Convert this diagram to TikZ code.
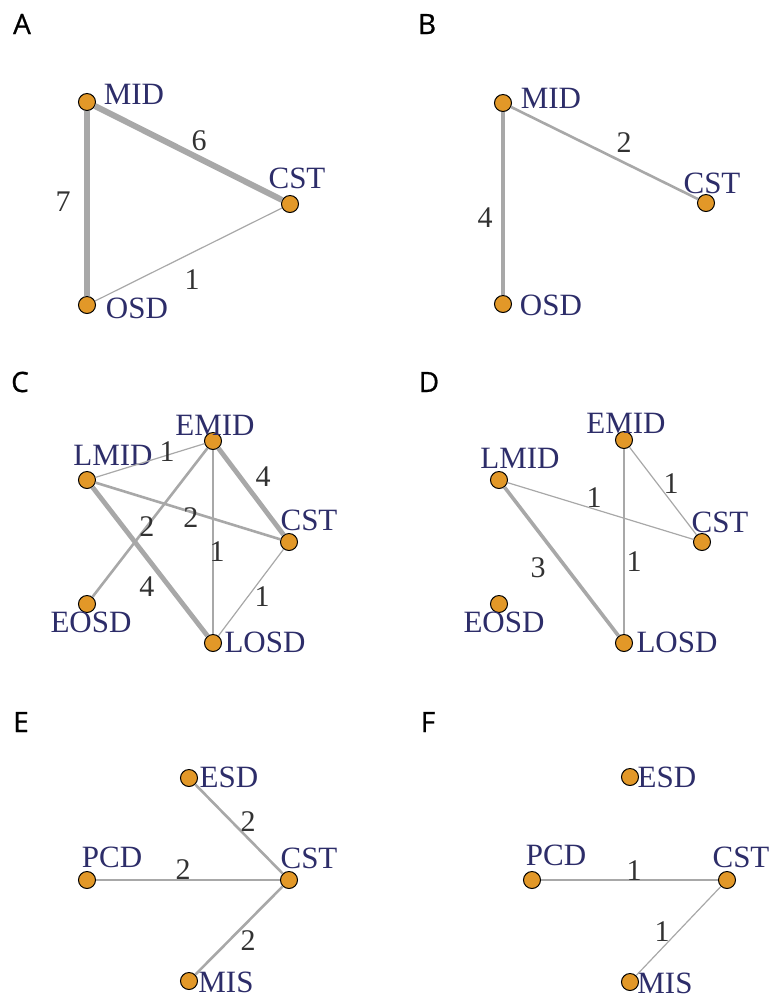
\documentclass[tikz,border=0pt]{standalone}
\usepackage{fontspec}
\setmainfont{Liberation Serif}
\newfontfamily\tagfont[FakeBold=0.8]{Open Sans}
\usepackage{tikz}
\definecolor{nodeorange}{RGB}{226,152,40}
\definecolor{labnavy}{RGB}{45,45,105}
\definecolor{numgray}{RGB}{50,50,50}
\definecolor{edgegray}{RGB}{168,168,168}
\tikzset{
  vert/.style={circle,draw=black,fill=nodeorange,line width=0.5pt,minimum size=8.5pt,inner sep=0pt},
  vlabel/.style={text=labnavy,font=\fontsize{15.5}{17}\selectfont,inner sep=0pt},
  wlabel/.style={text=numgray,font=\fontsize{15}{17}\selectfont,inner sep=0pt},
  tag/.style={font=\tagfont\fontsize{14}{16}\selectfont,inner sep=0pt},
  e1/.style={draw=edgegray,line width=0.6pt},
  e2/.style={draw=edgegray,line width=1.3pt},
  e3/.style={draw=edgegray,line width=1.8pt},
  e4/.style={draw=edgegray,line width=2.4pt},
  e6/.style={draw=edgegray,line width=3pt},
  e7/.style={draw=edgegray,line width=3.4pt}
}
\begin{document}
\begin{tikzpicture}[x=0.5pt,y=-0.5pt]
		\useasboundingbox (0,0) rectangle (773,998);
		% A: three nodes
		\begin{scope}
			\node[tag] (tA) at (22,24) {A};
			\node[vert] (aMID) at (87,102) {};
			\node[vert] (aCST) at (290,204) {};
			\node[vert] (aOSD) at (87,305) {};
			\node[vlabel] (laMID) at (134,94) {MID};
			\node[vlabel] (laCST) at (297,178) {CST};
			\node[vlabel] (laOSD) at (137,308) {OSD};
			\draw[e6] (aMID) -- (aCST);
			\draw[e7] (aMID) -- (aOSD);
			\draw[e1] (aOSD) -- (aCST);
			\node[wlabel] (naMC) at (199,141) {6};
			\node[wlabel] (naMO) at (63,202) {7};
			\node[wlabel] (naOC) at (192,280) {1};
		\end{scope}
		
		% B: same nodes, no OSD--CST edge
		\begin{scope}
			\node[tag] (tB) at (427,24) {B};
			\node[vert] (bMID) at (503,103) {};
			\node[vert] (bCST) at (706,203) {};
			\node[vert] (bOSD) at (503,304) {};
			\node[vlabel] (lbMID) at (551,98) {MID};
			\node[vlabel] (lbCST) at (712,183) {CST};
			\node[vlabel] (lbOSD) at (551,305) {OSD};
			\draw[e2] (bMID) -- (bCST);
			\draw[e4] (bMID) -- (bOSD);
			\node[wlabel] (nbMC) at (624,143) {2};
			\node[wlabel] (nbMO) at (485,218) {4};
		\end{scope}
		
		% C: five nodes
		\begin{scope}
			\node[tag] (tC) at (20,382) {C};
			\node[vert] (cEMID) at (213,441) {};
			\node[vert] (cLMID) at (87,480) {};
			\node[vert] (cCST) at (289,542) {};
			\node[vert] (cEOSD) at (87,604) {};
			\node[vert] (cLOSD) at (213,643) {};
			\node[vlabel] (lcEMID) at (215,425) {EMID};
			\node[vlabel] (lcLMID) at (113,455) {LMID};
			\node[vlabel] (lcCST) at (309,520) {CST};
			\node[vlabel] (lcEOSD) at (91,622) {EOSD};
			\node[vlabel] (lcLOSD) at (265,642) {LOSD};
			\draw[e1] (cLMID) -- (cEMID);
			\draw[e4] (cEMID) -- (cCST);
			\draw[e2] (cLMID) -- (cCST);
			\draw[e2] (cEOSD) -- (cEMID);
			\draw[e1] (cEMID) -- (cLOSD);
			\draw[e4] (cLMID) -- (cLOSD);
			\draw[e1] (cCST) -- (cLOSD);
			\node[wlabel] (ncLE) at (167,452) {1};
			\node[wlabel] (ncEC) at (263,477) {4};
			\node[wlabel] (ncLC) at (191,518) {2};
			\node[wlabel] (ncOE) at (147,527) {2};
			\node[wlabel] (ncEL) at (217,552) {1};
			\node[wlabel] (ncLL) at (147,587) {4};
			\node[wlabel] (ncCL) at (262,597) {1};
		\end{scope}
		
		% D: five nodes, EOSD alone
		\begin{scope}
			\node[tag] (tD) at (429,382) {D};
			\node[vert] (dEMID) at (624,440) {};
			\node[vert] (dLMID) at (499,480) {};
			\node[vert] (dCST) at (702,542) {};
			\node[vert] (dEOSD) at (499,604) {};
			\node[vert] (dLOSD) at (624,643) {};
			\node[vlabel] (ldEMID) at (626,423) {EMID};
			\node[vlabel] (ldLMID) at (520,458) {LMID};
			\node[vlabel] (ldCST) at (720,522) {CST};
			\node[vlabel] (ldEOSD) at (504,622) {EOSD};
			\node[vlabel] (ldLOSD) at (677,642) {LOSD};
			\draw[e1] (dLMID) -- (dCST);
			\draw[e1] (dEMID) -- (dCST);
			\draw[e1] (dEMID) -- (dLOSD);
			\draw[e3] (dLMID) -- (dLOSD);
			\node[wlabel] (ndLC) at (594,498) {1};
			\node[wlabel] (ndEC) at (671,484) {1};
			\node[wlabel] (ndEL) at (634,562) {1};
			\node[wlabel] (ndLL) at (538,568) {3};
		\end{scope}
		
		% E: star round CST
		\begin{scope}
			\node[tag] (tE) at (21,722) {E};
			\node[vert] (eESD) at (189,778) {};
			\node[vert] (ePCD) at (87,880) {};
			\node[vert] (eCST) at (289,880) {};
			\node[vert] (eMIS) at (189,981) {};
			\node[vlabel] (leESD) at (229,777) {ESD};
			\node[vlabel] (lePCD) at (112,857) {PCD};
			\node[vlabel] (leCST) at (309,858) {CST};
			\node[vlabel] (leMIS) at (226,982) {MIS};
			\draw[e2] (eESD) -- (eCST);
			\draw[e2] (ePCD) -- (eCST);
			\draw[e2] (eMIS) -- (eCST);
			\node[wlabel] (neEC) at (248,822) {2};
			\node[wlabel] (nePC) at (183,870) {2};
			\node[wlabel] (neMC) at (248,941) {2};
		\end{scope}
		
		% F: ESD alone
		\begin{scope}
			\node[tag] (tF) at (428,722) {F};
			\node[vert] (fESD) at (630,777) {};
			\node[vert] (fPCD) at (532,880) {};
			\node[vert] (fCST) at (727,880) {};
			\node[vert] (fMIS) at (630,982) {};
			\node[vlabel] (lfESD) at (667,777) {ESD};
			\node[vlabel] (lfPCD) at (556,855) {PCD};
			\node[vlabel] (lfCST) at (741,857) {CST};
			\node[vlabel] (lfMIS) at (665,983) {MIS};
			\draw[e1] (fPCD) -- (fCST);
			\draw[e1] (fMIS) -- (fCST);
			\node[wlabel] (nfPC) at (634,871) {1};
			\node[wlabel] (nfMC) at (662,932) {1};
		\end{scope}
	\end{tikzpicture}
\end{document}
